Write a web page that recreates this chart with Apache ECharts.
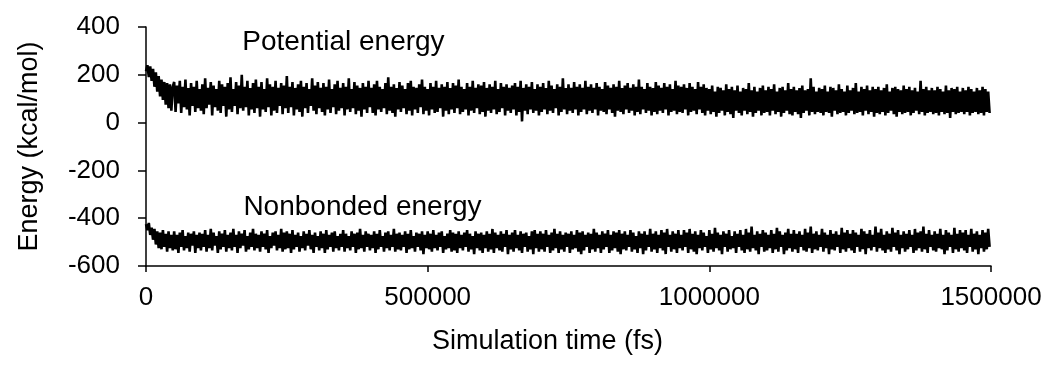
<!DOCTYPE html>
<html>
<head>
<meta charset="utf-8">
<script src="https://cdn.jsdelivr.net/npm/echarts@6/dist/echarts.min.js"></script>
<style>
  html, body { margin: 0; padding: 0; background: #fff; }
  #chart { width: 1049px; height: 377px; }
</style>
</head>
<body>
<div id="chart"></div>
<script>
// MD trajectory energies, sampled every 2500 fs over 1.5 ns
const timeStepFs = 2500;
const xTicks = [0, 500000, 1000000, 1500000];
const yTicks = [-600, -400, -200, 0, 200, 400];

// Potential energy (kcal/mol)
const potentialEnergy = [
  215,240,190,235,175,225,150,210,130,195,110,180,95,170,75,165,60,160,50,150,
  170,45,155,80,175,40,150,65,180,55,145,30,165,70,150,45,175,60,140,50,
  160,35,185,60,145,75,170,30,155,65,140,50,175,40,160,70,150,25,165,55,
  190,45,140,70,170,35,155,60,200,50,150,65,175,30,145,55,165,40,180,60,
  150,25,170,55,140,45,185,65,160,30,150,50,175,40,145,70,165,35,155,60,
  195,40,150,65,170,30,145,55,160,45,175,25,150,60,165,40,140,70,185,50,
  155,35,170,60,145,45,165,30,150,55,180,40,140,65,160,35,175,50,145,60,
  165,30,150,55,185,45,140,60,170,35,155,50,145,25,165,55,150,40,175,65,
  145,40,160,30,175,55,150,45,140,60,165,35,190,50,150,40,160,25,145,55,
  170,45,155,60,140,35,165,50,175,30,150,55,145,40,160,65,180,35,150,50,
  140,30,165,55,150,40,175,45,145,60,160,25,150,50,170,35,145,55,165,40,
  155,60,180,35,150,45,140,55,165,30,150,50,175,40,145,60,160,35,155,45,
  170,25,145,50,160,40,150,55,175,35,140,45,165,60,150,30,160,50,145,40,
  155,55,165,30,150,45,175,5,145,50,160,35,150,55,170,40,140,50,160,30,
  150,45,165,55,145,35,175,50,155,40,140,60,160,30,150,45,185,55,145,35,
  160,50,145,40,170,55,150,30,160,45,145,55,175,35,150,50,160,40,145,55,
  165,30,150,50,140,45,170,35,155,55,145,40,160,25,150,50,175,45,145,35,
  155,55,165,40,145,50,160,30,150,45,180,35,150,55,140,40,165,50,150,30,
  145,45,170,35,155,50,145,40,165,55,150,30,160,45,140,50,175,35,155,45,
  150,40,160,55,145,30,165,45,150,50,140,35,170,55,150,40,160,30,145,50,
  140,35,155,45,130,25,150,40,145,50,135,30,160,45,140,35,150,20,135,50,
  155,40,130,30,145,50,140,35,165,45,135,25,150,40,130,50,145,30,155,40,
  135,45,150,30,140,50,160,35,130,45,145,25,150,40,135,50,165,35,140,30,
  150,45,135,35,145,20,155,40,135,50,140,30,185,45,150,35,130,45,145,40,
  140,30,155,45,130,40,150,25,145,50,135,35,160,40,140,45,130,30,155,40,
  135,50,145,35,165,40,130,45,150,30,140,50,155,35,135,45,150,25,140,40,
  150,35,135,45,145,30,160,40,130,50,145,35,150,25,140,45,135,35,155,40,
  140,45,150,30,135,40,145,50,130,35,175,45,140,30,150,40,135,45,145,35,
  135,40,150,30,140,45,130,35,155,40,135,20,145,45,140,35,150,40,130,45,
  145,35,135,45,150,30,140,40,130,45,145,35,135,40,150,30,140,45,130,40
];

// Nonbonded energy (kcal/mol)
const nonbondedEnergy = [
  -425,-450,-420,-470,-440,-490,-445,-510,-455,-525,-460,-530,-450,-520,-465,-540,-455,-525,-470,-535,
  -455,-530,-470,-545,-460,-520,-450,-535,-475,-525,-460,-540,-465,-515,-455,-545,-470,-525,-460,-535,
  -465,-520,-450,-540,-470,-525,-445,-535,-460,-515,-475,-545,-455,-530,-465,-520,-450,-540,-470,-525,
  -460,-535,-445,-520,-470,-545,-455,-525,-465,-515,-450,-540,-475,-530,-460,-520,-445,-535,-465,-525,
  -470,-540,-455,-520,-465,-530,-450,-545,-475,-525,-460,-515,-455,-535,-470,-525,-445,-540,-460,-530,
  -455,-525,-465,-545,-450,-530,-470,-520,-460,-540,-475,-525,-455,-535,-465,-515,-450,-530,-470,-545,
  -460,-520,-475,-535,-455,-525,-465,-545,-450,-530,-470,-520,-460,-540,-455,-525,-475,-535,-465,-520,
  -450,-540,-465,-525,-475,-535,-455,-520,-465,-545,-460,-530,-445,-525,-470,-540,-455,-520,-465,-535,
  -470,-525,-455,-545,-465,-530,-450,-520,-475,-540,-460,-525,-455,-535,-470,-520,-445,-540,-465,-530,
  -460,-535,-470,-520,-455,-545,-465,-530,-450,-525,-475,-540,-460,-520,-465,-535,-455,-550,-470,-525,
  -455,-530,-465,-540,-450,-525,-470,-535,-460,-520,-455,-545,-475,-530,-465,-525,-450,-540,-460,-535,
  -465,-545,-455,-525,-470,-535,-460,-520,-450,-540,-465,-530,-475,-550,-455,-525,-465,-535,-460,-545,
  -470,-525,-455,-540,-465,-530,-445,-545,-460,-525,-470,-535,-455,-540,-465,-520,-450,-550,-470,-530,
  -460,-540,-450,-525,-470,-535,-455,-545,-465,-520,-460,-540,-475,-530,-455,-550,-450,-525,-465,-540,
  -455,-530,-465,-540,-450,-520,-470,-545,-460,-535,-445,-525,-465,-545,-455,-530,-470,-540,-460,-520,
  -465,-545,-455,-530,-470,-525,-450,-540,-460,-550,-455,-535,-470,-520,-460,-545,-465,-530,-445,-540,
  -460,-525,-470,-545,-455,-530,-465,-520,-450,-545,-470,-535,-455,-525,-460,-540,-450,-550,-465,-530,
  -455,-535,-470,-520,-450,-540,-460,-530,-475,-545,-455,-525,-465,-550,-455,-535,-470,-520,-445,-540,
  -465,-530,-455,-545,-470,-525,-450,-535,-460,-550,-445,-520,-470,-540,-455,-530,-465,-545,-450,-525,
  -470,-535,-450,-520,-460,-545,-445,-530,-465,-540,-455,-550,-470,-525,-450,-535,-460,-520,-475,-545,
  -450,-530,-465,-540,-440,-525,-460,-535,-470,-550,-455,-520,-465,-540,-450,-530,-475,-525,-455,-545,
  -465,-520,-450,-535,-470,-545,-445,-530,-460,-540,-435,-525,-470,-535,-455,-550,-465,-520,-450,-540,
  -460,-535,-470,-525,-450,-545,-465,-530,-440,-540,-455,-520,-470,-550,-460,-535,-445,-525,-465,-540,
  -450,-530,-465,-545,-455,-520,-470,-535,-445,-540,-460,-525,-435,-545,-465,-530,-455,-535,-470,-520,
  -445,-540,-460,-525,-470,-550,-450,-530,-465,-535,-455,-520,-470,-545,-440,-530,-460,-540,-450,-525,
  -465,-535,-450,-545,-460,-520,-470,-540,-445,-530,-455,-550,-465,-525,-450,-535,-470,-520,-435,-540,
  -460,-525,-445,-535,-470,-545,-455,-530,-465,-540,-440,-520,-460,-535,-450,-550,-470,-525,-455,-540,
  -465,-530,-450,-520,-470,-545,-445,-535,-460,-525,-455,-540,-435,-530,-465,-545,-450,-520,-470,-535,
  -455,-540,-465,-525,-445,-530,-470,-550,-450,-535,-460,-520,-470,-545,-440,-530,-465,-540,-450,-525,
  -460,-535,-450,-545,-470,-520,-445,-540,-465,-530,-455,-550,-470,-525,-450,-540,-460,-530,-445,-520
];

const seriesLabels = ['Potential energy', 'Nonbonded energy'];
// where each series caption sits, in data units
const labelAnchors = [[170000, 337], [172000, -353]];

const FONT = '"Liberation Sans", Arial, sans-serif';

function toPairs(values) {
  return values.map((v, i) => [i * timeStepFs, v]);
}

function captionPoint(text, coord) {
  return {
    symbol: 'circle',
    symbolSize: 1,
    silent: true,
    itemStyle: { color: 'rgba(0,0,0,0)' },
    data: [{ coord: coord, name: text }],
    label: {
      show: true,
      position: 'right',
      distance: 0,
      formatter: text,
      color: '#000',
      fontFamily: FONT,
      fontSize: 28
    }
  };
}

const chart = echarts.init(document.getElementById('chart'), null, { renderer: 'canvas' });

chart.setOption({
  animation: false,
  backgroundColor: '#fff',
  grid: { left: 146, right: 58, top: 27, bottom: 111 },
  xAxis: {
    type: 'value',
    min: xTicks[0],
    max: xTicks[xTicks.length - 1],
    interval: xTicks[1] - xTicks[0],
    name: 'Simulation time (fs)',
    nameLocation: 'middle',
    nameGap: 62,
    nameTextStyle: { color: '#000', fontFamily: FONT, fontSize: 27, padding: [0, 42, 0, 0] },
    axisLine: { onZero: false, lineStyle: { color: '#000', width: 1.5 } },
    axisTick: { show: true, inside: false, length: 6, lineStyle: { color: '#000', width: 1.5 } },
    axisLabel: { color: '#000', fontFamily: FONT, fontSize: 26, margin: 19, formatter: v => String(v) },
    splitLine: { show: false }
  },
  yAxis: {
    type: 'value',
    min: yTicks[0],
    max: yTicks[yTicks.length - 1],
    interval: yTicks[1] - yTicks[0],
    name: 'Energy (kcal/mol)',
    nameLocation: 'middle',
    nameGap: 103,
    nameTextStyle: { color: '#000', fontFamily: FONT, fontSize: 27 },
    axisLine: { show: true, onZero: false, lineStyle: { color: '#000', width: 1.5 } },
    axisTick: { show: true, inside: false, length: 8, lineStyle: { color: '#000', width: 1.5 } },
    axisLabel: { color: '#000', fontFamily: FONT, fontSize: 26, margin: 26, formatter: v => String(v) },
    splitLine: { show: false }
  },
  series: [
    {
      name: seriesLabels[0],
      type: 'line',
      data: toPairs(potentialEnergy),
      showSymbol: false,
      symbol: 'none',
      lineStyle: { color: '#000', width: 2.6, join: 'bevel' },
      markPoint: captionPoint(seriesLabels[0], labelAnchors[0])
    },
    {
      name: seriesLabels[1],
      type: 'line',
      data: toPairs(nonbondedEnergy),
      showSymbol: false,
      symbol: 'none',
      lineStyle: { color: '#000', width: 2.6, join: 'bevel' },
      markPoint: captionPoint(seriesLabels[1], labelAnchors[1])
    }
  ]
});
</script>
</body>
</html>
